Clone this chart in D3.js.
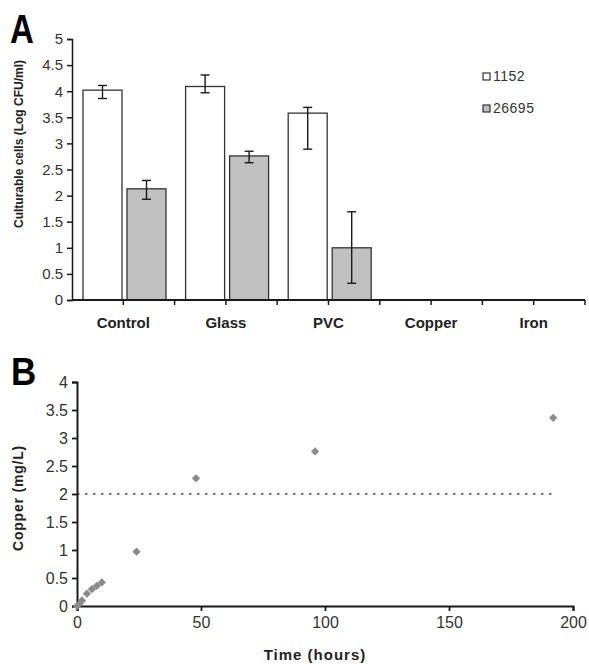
<!DOCTYPE html>
<html>
<head>
<meta charset="utf-8">
<script src="https://cdn.jsdelivr.net/npm/d3@7"></script>
<style>
  html, body { margin: 0; padding: 0; background: #fff; }
  svg { display: block; font-family: Arial, "Liberation Sans", sans-serif; }
</style>
</head>
<body>
<svg id="chart" width="589" height="664"></svg>
<script>
// ---------- Panel A data ----------
const categories = ["Control", "Glass", "PVC", "Copper", "Iron"];
const seriesNames = ["1152", "26695"];
const values1152 = [4.02, 4.09, 3.58, 0, 0];
const errLow1152 = [0.16, 0.12, 0.69, 0, 0];
const errHigh1152 = [0.09, 0.22, 0.11, 0, 0];
const values26695 = [2.13, 2.76, 1.0, 0, 0];
const errLow26695 = [0.2, 0.13, 0.68, 0, 0];
const errHigh26695 = [0.16, 0.09, 0.69, 0, 0];
const yTicksA = [0, 0.5, 1, 1.5, 2, 2.5, 3, 3.5, 4, 4.5, 5];

// ---------- Panel B data ----------
const timeHours = [0, 1, 2, 4, 6, 8, 10, 24, 48, 96, 192];
const copperMgL = [0, 0.04, 0.1, 0.22, 0.3, 0.36, 0.42, 0.97, 2.28, 2.76, 3.36];
const limitValue = 2;
const yTicksB = [0, 0.5, 1, 1.5, 2, 2.5, 3, 3.5, 4];
const xTicksB = [0, 50, 100, 150, 200];

const svg = d3.select("#chart");
const ink = "#1a1a1a";
const tickFont = 15;

// ================= Panel A =================
const gA = svg.append("g");
const xA = d3.scaleBand().domain(categories).range([72, 585]).paddingInner(0).paddingOuter(0);
const xSub = d3.scaleBand().domain(seriesNames).range([11, 94]).paddingInner(5 / 44);
const yA = d3.scaleLinear().domain([0, 5]).range([300, 39]);

const seriesA = [
  { name: "1152", vals: values1152, lo: errLow1152, hi: errHigh1152, fill: "#ffffff" },
  { name: "26695", vals: values26695, lo: errLow26695, hi: errHigh26695, fill: "#c0c0c0" }
];

seriesA.forEach(s => {
  const data = categories.map((c, i) => ({ c, v: s.vals[i], lo: s.lo[i], hi: s.hi[i] })).filter(d => d.v > 0);
  gA.selectAll(null).data(data).enter().append("rect")
    .attr("x", d => xA(d.c) + xSub(s.name))
    .attr("y", d => yA(d.v))
    .attr("width", xSub.bandwidth())
    .attr("height", d => yA(0) - yA(d.v))
    .attr("fill", s.fill)
    .attr("stroke", "#333")
    .attr("stroke-width", 1.3);
  const eb = gA.selectAll(null).data(data).enter().append("g")
    .attr("stroke", ink).attr("stroke-width", 1.4);
  const cx = d => xA(d.c) + xSub(s.name) + xSub.bandwidth() / 2;
  eb.append("line").attr("x1", cx).attr("x2", cx)
    .attr("y1", d => yA(d.v + d.hi)).attr("y2", d => yA(d.v - d.lo));
  eb.append("line").attr("x1", d => cx(d) - 4.5).attr("x2", d => cx(d) + 4.5)
    .attr("y1", d => yA(d.v + d.hi)).attr("y2", d => yA(d.v + d.hi));
  eb.append("line").attr("x1", d => cx(d) - 4.5).attr("x2", d => cx(d) + 4.5)
    .attr("y1", d => yA(d.v - d.lo)).attr("y2", d => yA(d.v - d.lo));
});

// Y axis A
const yAxisA = gA.append("g").attr("transform", "translate(72,0)")
  .call(d3.axisLeft(yA).tickValues(yTicksA).tickSize(5).tickPadding(4).tickFormat(d3.format("")));
yAxisA.select(".domain").attr("stroke", ink).attr("stroke-width", 1.5);
yAxisA.selectAll(".tick line").attr("stroke", ink).attr("stroke-width", 1.5);
yAxisA.selectAll(".tick text").attr("font-size", tickFont).attr("fill", "#333").attr("font-family", "Arial, 'Liberation Sans', sans-serif");

// X axis A (ticks at every half band)
const halfTicks = d3.range(0, categories.length * 2 + 1).map(i => 72 + i * xA.bandwidth() / 2);
const xAxisA = gA.append("g");
xAxisA.append("line").attr("x1", 72).attr("x2", 585).attr("y1", yA(0)).attr("y2", yA(0))
  .attr("stroke", ink).attr("stroke-width", 1.8);
xAxisA.selectAll(null).data(halfTicks.slice(1)).enter().append("line")
  .attr("x1", d => d).attr("x2", d => d).attr("y1", yA(0)).attr("y2", yA(0) + 5)
  .attr("stroke", ink).attr("stroke-width", 1.5);
xAxisA.selectAll(null).data(categories).enter().append("text")
  .attr("x", d => xA(d) + xA.bandwidth() / 2)
  .attr("y", 328)
  .attr("text-anchor", "middle")
  .attr("font-size", 15).attr("font-weight", "bold").attr("fill", "#222")
  .text(d => d);

// Y title A
gA.append("text")
  .attr("transform", "translate(23,144) rotate(-90)")
  .attr("text-anchor", "middle")
  .attr("font-size", 12).attr("font-weight", "bold").attr("fill", "#222")
  .text("Culturable cells (Log CFU/ml)");

// Legend A
const legA = gA.append("g");
seriesA.forEach((s, i) => {
  const y = 73 + i * 32;
  legA.append("rect").attr("x", 483).attr("y", y).attr("width", 7).attr("height", 7)
    .attr("fill", s.fill).attr("stroke", "#333").attr("stroke-width", 1.2);
  legA.append("text").attr("x", 493).attr("y", y + 7.5)
    .attr("font-size", 14).attr("fill", "#333").attr("letter-spacing", 0.5).text(s.name);
});

// Panel letter A
svg.append("text").attr("transform", "translate(10,43) scale(1,1.25)")
  .attr("font-size", 33).attr("font-weight", "bold").attr("fill", "#000").text("A");

// ================= Panel B =================
const gB = svg.append("g");
const xB = d3.scaleLinear().domain([0, 200]).range([77, 573]);
const yB = d3.scaleLinear().domain([0, 4]).range([606, 382]);

// limit line
gB.append("line")
  .attr("x1", xB(0)).attr("x2", xB(timeHours[timeHours.length - 1]))
  .attr("y1", yB(limitValue)).attr("y2", yB(limitValue))
  .attr("stroke", "#444").attr("stroke-width", 1.5).attr("stroke-dasharray", "2.5,5.5");

// axes B
const yAxisB = gB.append("g").attr("transform", "translate(77,0)")
  .call(d3.axisLeft(yB).tickValues(yTicksB).tickSize(5).tickPadding(4).tickFormat(d3.format("")));
const xAxisB = gB.append("g").attr("transform", "translate(0,606)")
  .call(d3.axisBottom(xB).tickValues(xTicksB).tickSize(5).tickPadding(6).tickFormat(d3.format("")));
[yAxisB, xAxisB].forEach(ax => {
  ax.select(".domain").attr("stroke", ink).attr("stroke-width", 2);
  ax.selectAll(".tick line").attr("stroke", ink).attr("stroke-width", 1.8);
  ax.selectAll(".tick text").attr("font-size", tickFont + 1).attr("fill", "#333").attr("font-family", "Arial, 'Liberation Sans', sans-serif");
});

// points
const pts = timeHours.map((t, i) => ({ t, v: copperMgL[i] }));
gB.selectAll(null).data(pts).enter().append("path")
  .attr("d", d3.symbol(d3.symbolSquare, 34))
  .attr("transform", d => `translate(${xB(d.t)},${yB(d.v)}) rotate(45)`)
  .attr("fill", "#8a8a8a");

// titles B
gB.append("text").attr("x", 315).attr("y", 660).attr("text-anchor", "middle")
  .attr("font-size", 15).attr("font-weight", "bold").attr("fill", "#222").attr("letter-spacing", 1)
  .text("Time (hours)");
gB.append("text")
  .attr("transform", "translate(23,498) rotate(-90)")
  .attr("text-anchor", "middle")
  .attr("font-size", 14).attr("font-weight", "bold").attr("fill", "#222").attr("letter-spacing", 0.8)
  .text("Copper (mg/L)");

// Panel letter B
svg.append("text").attr("transform", "translate(11,385) scale(1,1.1)")
  .attr("font-size", 35).attr("font-weight", "bold").attr("fill", "#000").text("B");
</script>
</body>
</html>
